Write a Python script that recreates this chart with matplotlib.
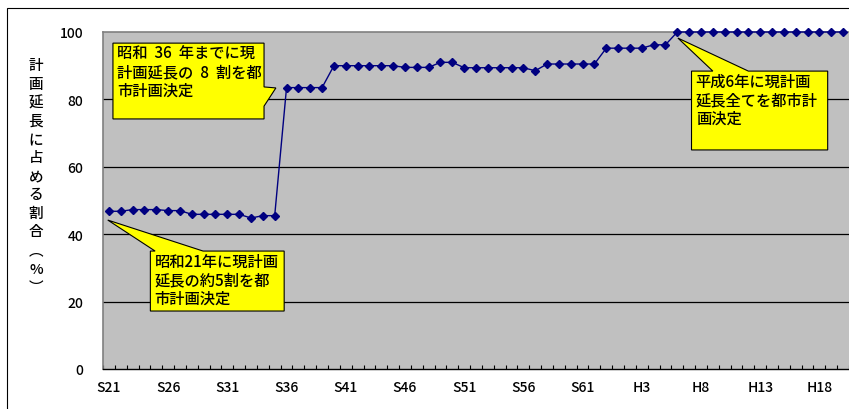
import matplotlib
matplotlib.use("Agg")
import matplotlib.pyplot as plt
from matplotlib.patches import Polygon, Rectangle
import numpy as np

plt.rcParams['font.family'] = ['Noto Sans CJK JP', 'DejaVu Sans']

# 都市計画決定済みの割合（％）、昭和21年から平成20年まで
years = list(range(63))
share = [46.8, 46.8, 47.3, 47.3, 47.3, 47.0, 47.0, 45.9, 45.9, 45.9,
         45.9, 45.9, 44.8, 45.5, 45.5, 83.5, 83.5, 83.5, 83.5, 90.0,
         90.0, 90.0, 90.0, 90.0, 90.0, 89.5, 89.5, 89.5, 91.0, 91.0,
         89.4, 89.4, 89.4, 89.4, 89.4, 89.4, 88.5, 90.5, 90.5, 90.5,
         90.5, 90.5, 95.2, 95.2, 95.2, 95.2, 96.2, 96.2, 100, 100,
         100, 100, 100, 100, 100, 100, 100, 100, 100, 100,
         100, 100, 100]
tick_pos = list(range(0, 63, 5))
tick_labels = ['S21', 'S26', 'S31', 'S36', 'S41', 'S46', 'S51', 'S56',
               'S61', 'H3', 'H8', 'H13', 'H18']
ylabel_chars = ['計', '画', '延', '長', 'に', '占', 'め', 'る', '割', '合',
                '︵', '%', '︶']

notes = [
    dict(lines=['昭和  36  年までに現', '計画延長の  8  割を都', '市計画決定'],
         box=(0.34, 13.1, 74.2, 96.7), side='right', base=(83.7, 78.0),
         tip=(14.1, 83.4)),
    dict(lines=['昭和21年に現計画', '延長の約5割を都', '市計画決定'],
         box=(3.5, 14.8, 17.2, 35.0), side='top', base=(3.9, 7.95),
         tip=(-0.1, 44.2)),
    dict(lines=['平成6年に現計画', '延長全てを都市計', '画決定'],
         box=(49.2, 60.7, 65.0, 88.4), side='top', base=(51.0, 54.0),
         tip=(48.05, 98.2)),
]

W, H = 849, 410
fig = plt.figure(figsize=(W / 100, H / 100), dpi=100)
ax = fig.add_axes([103 / W, 40 / H, 746 / W, 337 / H])
ax.set_facecolor('#C0C0C0')

# frame around the whole chart
fig.patches.append(Rectangle((7 / W, -0.1), 1.2, 1 - 9 / H + 0.1,
                             transform=fig.transFigure, fill=False,
                             ec='black', lw=0.8))

for v in (20, 40, 60, 80):
    ax.axhline(v, color='black', lw=0.9, zorder=1)

ax.plot(years, share, color='#000080', lw=1, marker='D', ms=4.5,
        zorder=3, clip_on=False)

ax.set_xlim(-0.5, 62.5)
ax.set_ylim(0, 100)
ax.set_yticks([0, 20, 40, 60, 80, 100])
ax.tick_params(axis='y', length=0, pad=14, labelsize=10)
ax.set_xticks(tick_pos)
ax.set_xticklabels(tick_labels)
ax.set_xticks(np.arange(-0.5, 63, 1), minor=True)
ax.tick_params(axis='x', which='major', length=0, pad=8, labelsize=10)
ax.tick_params(axis='x', which='minor', direction='in', length=3,
               width=0.8, color='black')
for lab in ax.get_xticklabels() + ax.get_yticklabels():
    lab.set_fontweight('medium')

for s in ('top', 'left'):
    ax.spines[s].set_color('#808080')
    ax.spines[s].set_linewidth(1.2)
ax.spines['right'].set_visible(False)
ax.spines['bottom'].set_color('black')
ax.spines['bottom'].set_linewidth(1)

# vertical axis title, one character per row
for k, ch in enumerate(ylabel_chars):
    fig.text(36 / W, 1 - (66 + k * 18.5) / H, ch, ha='center', va='center',
             fontsize=10.5, fontweight='medium')

# callout boxes
for n in notes:
    x0, x1, y0, y1 = n['box']
    b0, b1 = n['base']
    if n['side'] == 'right':
        verts = [(x0, y1), (x1, y1), (x1, b0), n['tip'], (x1, b1),
                 (x1, y0), (x0, y0)]
    else:
        verts = [(x0, y1), (b0, y1), n['tip'], (b1, y1), (x1, y1),
                 (x1, y0), (x0, y0)]
    ax.add_patch(Polygon(verts, closed=True, fc='#FFFF00', ec='black',
                         lw=0.8, zorder=4, clip_on=False))
    for k, line in enumerate(n['lines']):
        ax.annotate(line, xy=(x0, y1), xytext=(3, -1.5 - k * 13.3),
                    textcoords='offset points', ha='left', va='top',
                    fontsize=11, fontweight='medium', zorder=5)

fig.savefig('out.png', dpi=100)
